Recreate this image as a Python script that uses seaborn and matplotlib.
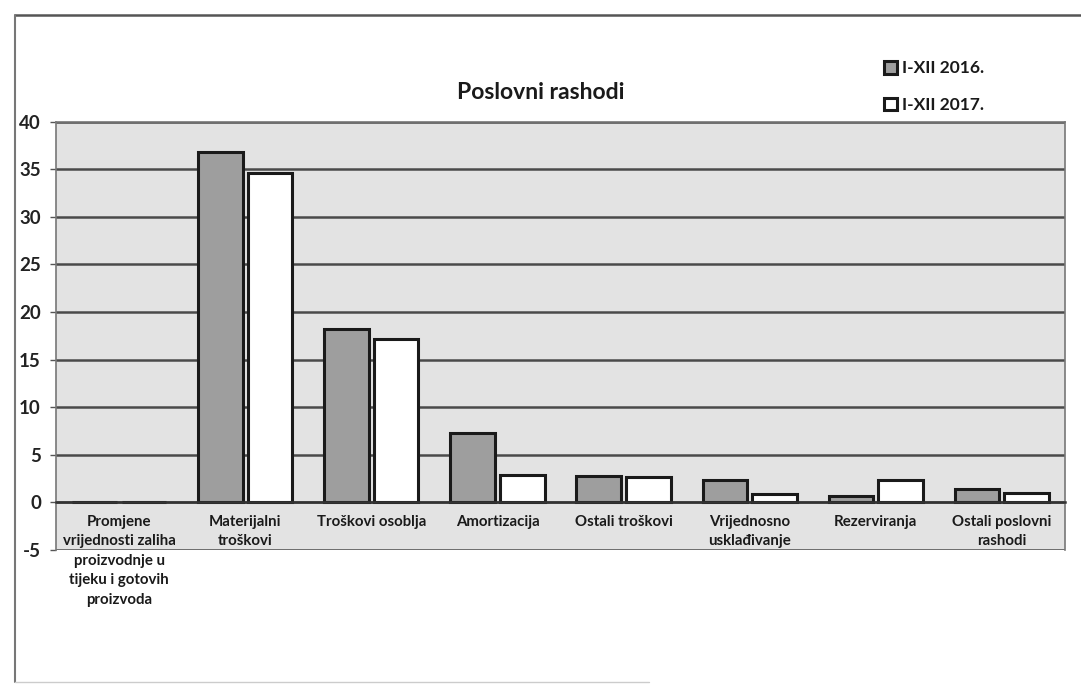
import matplotlib
matplotlib.use("Agg")
import matplotlib.pyplot as plt
import seaborn as sns
import pandas as pd
import numpy as np
from matplotlib.lines import Line2D

categories = [
    "Promjene\nvrijednosti zaliha\nproizvodnje u\ntijeku i gotovih\nproizvoda",
    "Materijalni\ntroškovi",
    "Troškovi osoblja",
    "Amortizacija",
    "Ostali troškovi",
    "Vrijednosno\nusklađivanje",
    "Rezerviranja",
    "Ostali poslovni\nrashodi",
]
series_names = ["I-XII 2016.", "I-XII 2017."]
values_2016 = [0.0, 36.8, 18.2, 7.3, 2.8, 2.3, 0.6, 1.4]
values_2017 = [0.0, 34.6, 17.2, 2.9, 2.6, 0.9, 2.3, 1.0]
y_ticks = [-5, 0, 5, 10, 15, 20, 25, 30, 35, 40]
title = "Poslovni rashodi"

df = pd.DataFrame({
    "kategorija": categories * 2,
    "serija": [series_names[0]] * len(categories) + [series_names[1]] * len(categories),
    "vrijednost": values_2016 + values_2017,
})

sns.set_theme(style="white")
plt.rcParams["font.family"] = ["Lato", "DejaVu Sans"]

fig = plt.figure(figsize=(10.81, 6.88), dpi=100)
ax = fig.add_axes([0.052, 0.201, 0.933, 0.622])

palette = {series_names[0]: "#9e9e9e", series_names[1]: "#ffffff"}
sns.barplot(data=df, x="kategorija", y="vrijednost", hue="serija",
            order=categories, hue_order=series_names, palette=palette,
            width=0.79, gap=0.11, edgecolor="#1a1a1a", linewidth=2.2,
            saturation=1, ax=ax, legend=True)

ax.set_facecolor("#e3e3e3")
ax.set_ylim(-5, 40)
ax.set_xlim(-0.5, len(categories) - 0.5)
ax.set_yticks(y_ticks)
ax.set_yticklabels([str(v) for v in y_ticks], fontsize=13.5, fontweight="bold", color="#222222")
ax.yaxis.grid(True, color="#4a4a4a", linewidth=1.8)
ax.set_axisbelow(True)
ax.set_xlabel("")
ax.set_ylabel("")

for s in ["left", "right", "top"]:
    ax.spines[s].set_color("#777777")
    ax.spines[s].set_linewidth(1.2)
ax.spines["bottom"].set_position(("data", 0))
ax.spines["bottom"].set_color("#333333")
ax.spines["bottom"].set_linewidth(1.8)

ax.set_xticks(np.arange(len(categories)))
ax.set_xticklabels(categories, fontsize=10.8, fontweight="bold", color="#1a1a1a",
                   linespacing=1.5, va="top")
ax.set_xticks(np.arange(len(categories) + 1) - 0.5, minor=True)
ax.tick_params(axis="x", which="major", length=0, pad=9)
ax.tick_params(axis="x", which="minor", length=5, width=1.2, color="#333333", direction="out")
ax.tick_params(axis="y", which="major", length=4, width=1, color="#555555", left=True, pad=7)

fig.text(0.5, 0.866, title, ha="center", va="center", fontsize=16.5, fontweight="bold", color="#1a1a1a")

handles, labels = ax.get_legend_handles_labels()
if ax.legend_:
    ax.legend_.remove()
leg = fig.legend(handles, labels, loc="upper left", bbox_to_anchor=(0.803, 0.935),
                 frameon=False, handlelength=0.75, handleheight=0.75, handletextpad=0.3,
                 labelspacing=1.2, prop={"family": ["Lato", "DejaVu Sans"], "weight": "bold", "size": 12.5})
for t in leg.get_texts():
    t.set_color("#1a1a1a")

# outer chart frame
fig.add_artist(Line2D([15 / 1081, 1.0], [1 - 15 / 688, 1 - 15 / 688], transform=fig.transFigure,
                      color="#555555", linewidth=1.8))
fig.add_artist(Line2D([15 / 1081, 15 / 1081], [1 - 15 / 688, 1 - 682 / 688], transform=fig.transFigure,
                      color="#777777", linewidth=1.5))
fig.add_artist(Line2D([15 / 1081, 0.6], [1 - 682 / 688, 1 - 682 / 688], transform=fig.transFigure,
                      color="#cccccc", linewidth=1.0))

fig.savefig("out.png", dpi=100, facecolor="white")
